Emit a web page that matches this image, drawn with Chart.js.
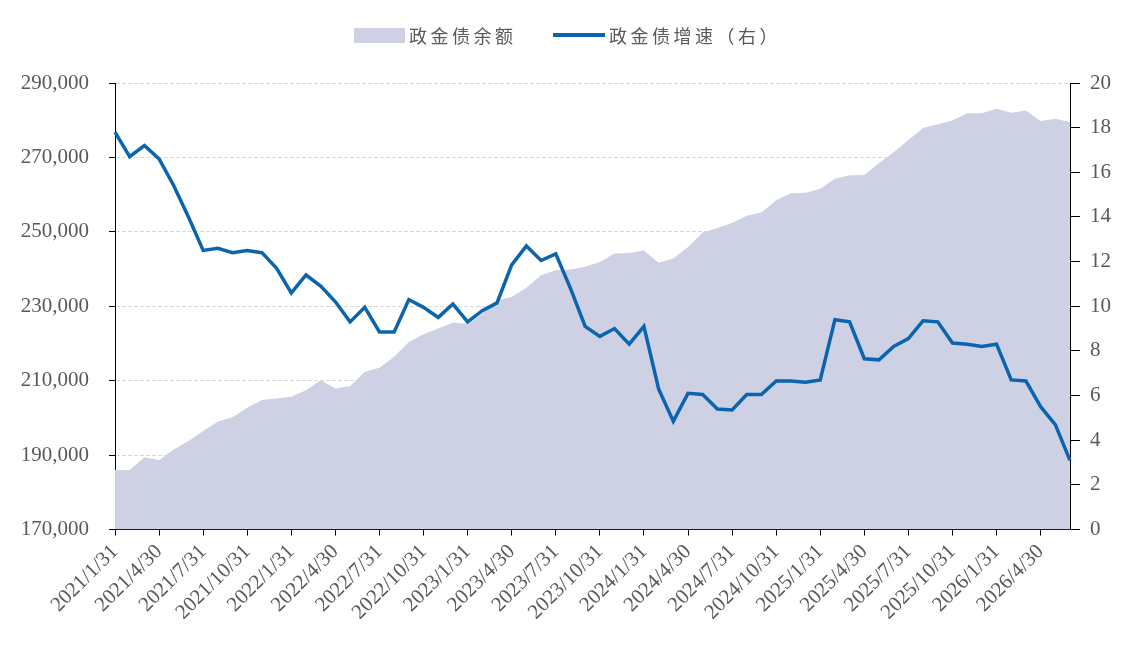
<!DOCTYPE html>
<html>
<head>
<meta charset="utf-8">
<script src="https://cdn.jsdelivr.net/npm/chart.js@4.4.1/dist/chart.umd.min.js"></script>
<style>
html, body { margin:0; padding:0; background:#fff; }
#wrap { position:relative; width:1134px; height:649px; }
.lg-box { position:absolute; left:354px; top:28px; width:51px; height:15px; background:#CED1E3; }
.lg-line { position:absolute; left:553px; top:33px; width:52px; height:4px; background:#0A64AE; }
.lg-txt { position:absolute; top:25px; font:18px "Noto Sans CJK SC", sans-serif; letter-spacing:3.5px; color:#595959; line-height:20px; white-space:nowrap; }
</style>
</head>
<body>
<div id="wrap">
  <canvas id="grafico" width="1134" height="649"></canvas>
  <div class="lg-box"></div><div class="lg-txt" style="left:409px">政金债余额</div>
  <div class="lg-line"></div><div class="lg-txt" style="left:609px">政金债增速（右）</div>
</div>
<script>
const datas = [
  "2021/1/31","2021/2/28","2021/3/31","2021/4/30","2021/5/31","2021/6/30","2021/7/31","2021/8/31","2021/9/30","2021/10/31","2021/11/30","2021/12/31",
  "2022/1/31","2022/2/28","2022/3/31","2022/4/30","2022/5/31","2022/6/30","2022/7/31","2022/8/31","2022/9/30","2022/10/31","2022/11/30","2022/12/31",
  "2023/1/31","2023/2/28","2023/3/31","2023/4/30","2023/5/31","2023/6/30","2023/7/31","2023/8/31","2023/9/30","2023/10/31","2023/11/30","2023/12/31",
  "2024/1/31","2024/2/29","2024/3/31","2024/4/30","2024/5/31","2024/6/30","2024/7/31","2024/8/31","2024/9/30","2024/10/31","2024/11/30","2024/12/31",
  "2025/1/31","2025/2/28","2025/3/31","2025/4/30","2025/5/31","2025/6/30","2025/7/31","2025/8/31","2025/9/30","2025/10/31","2025/11/30","2025/12/31",
  "2026/1/31","2026/2/28","2026/3/31","2026/4/30","2026/5/31","2026/6/30"
];
// 政金债余额（左轴）
const saldo = [
  186000,186000,189400,188700,191500,193800,196500,199000,200200,202700,204800,205200,
  205700,207400,210100,207900,208500,212400,213500,216400,220400,222500,224000,225600,
  225200,228000,231600,232500,235000,238300,239700,239900,240600,241900,244200,244300,
  245000,241700,242800,245900,249800,251000,252400,254300,255200,258500,260400,260500,
  261600,264300,265200,265300,268400,271400,274700,277900,278900,279900,281900,281900,
  283100,282000,282600,279800,280400,279500
];
// 政金债增速（右轴, %）
const crescimento = [
  17.8,16.7,17.2,16.6,15.4,14.0,12.5,12.6,12.4,12.5,12.4,11.7,
  10.6,11.4,10.9,10.2,9.3,9.95,8.85,8.85,10.3,9.95,9.5,10.1,
  9.3,9.8,10.15,11.85,12.7,12.05,12.35,10.8,9.1,8.65,9.0,8.3,
  9.1,6.3,4.85,6.1,6.05,5.4,5.35,6.05,6.05,6.65,6.65,6.6,
  6.7,9.4,9.3,7.65,7.6,8.2,8.55,9.35,9.3,8.35,8.3,8.2,
  8.3,6.7,6.65,5.5,4.7,3.1
];
const eixoEsq = { min:170000, max:290000, passo:20000 };
const eixoDir = { min:0, max:20, passo:2 };

const fonteNum = { family:"'Liberation Serif', 'Times New Roman', serif", size:21 };
const corTexto = "#595959";

new Chart(document.getElementById("grafico"), {
  type: "line",
  data: {
    labels: datas,
    datasets: [
      { label:"政金债增速（右）", data:crescimento, yAxisID:"y1", borderColor:"#0A64AE", borderWidth:3.5, pointRadius:0, tension:0, fill:false, order:0 },
      { label:"政金债余额", data:saldo, yAxisID:"y", backgroundColor:"#CED1E3", borderWidth:0, borderColor:"rgba(0,0,0,0)", pointRadius:0, tension:0, fill:"start", order:1 }
    ]
  },
  options: {
    responsive:false, animation:false, devicePixelRatio:1,
    layout:{ padding:{ top:83, left:0, right:0, bottom:0 } },
    plugins:{ legend:{ display:false }, tooltip:{ enabled:false } },
    scales:{
      x:{
        grid:{ drawOnChartArea:false, drawTicks:true, tickLength:6, tickColor:"#000" },
        border:{ color:"#000", width:1 },
        ticks:{ autoSkip:false, minRotation:45, maxRotation:45, padding:4, color:corTexto, font:fonteNum,
          callback:(v, i) => i % 3 === 0 ? datas[i] : null },
        afterFit:(s) => { s.height = 119.5; }
      },
      y:{
        position:"left", min:eixoEsq.min, max:eixoEsq.max,
        grid:{ color:"#D9D9D9", lineWidth:1, tickLength:6, tickColor:"#000" },
        border:{ color:"#000", width:1, dash:[4,2] },
        ticks:{ stepSize:eixoEsq.passo, padding:20, color:corTexto, font:fonteNum,
          callback:(v) => v.toLocaleString("en-US") },
        afterFit:(s) => { s.width = 115; }
      },
      y1:{
        position:"right", min:eixoDir.min, max:eixoDir.max,
        grid:{ drawOnChartArea:false, tickLength:10, tickColor:"#000" },
        border:{ color:"#000", width:1 },
        ticks:{ stepSize:eixoDir.passo, padding:10, color:corTexto, font:fonteNum },
        afterFit:(s) => { s.width = 64; }
      }
    }
  }
});
</script>
</body>
</html>
